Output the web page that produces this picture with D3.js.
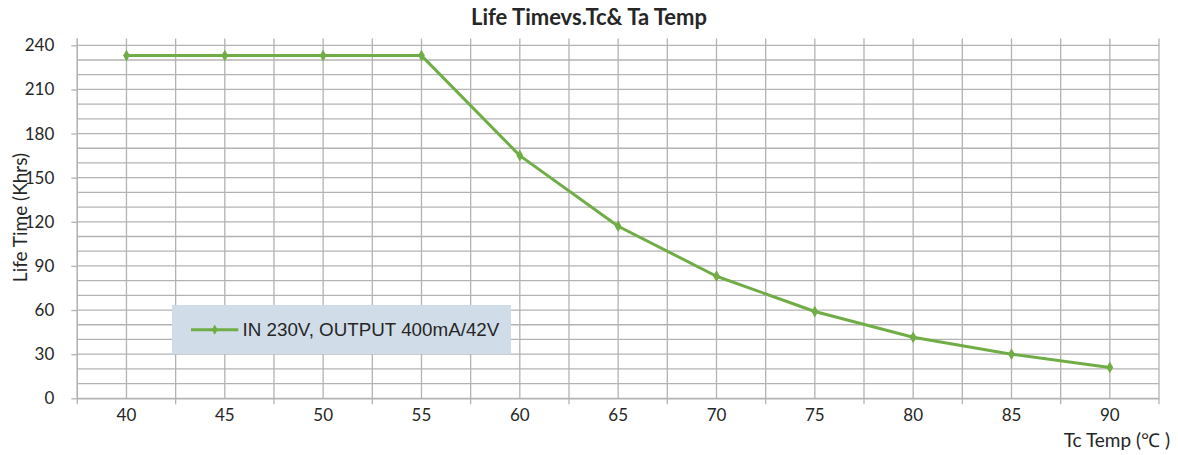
<!DOCTYPE html>
<html>
<head>
<meta charset="utf-8">
<script src="https://cdn.jsdelivr.net/npm/d3@7"></script>
<style>
  body { margin: 0; background: #fff; }
  text { font-family: Lato, "Open Sans", sans-serif; fill: #262626; }
</style>
</head>
<body>
<svg id="chart"></svg>
<script>
// data
const temps = ["40", "45", "50", "55", "60", "65", "70", "75", "80", "85", "90"];
const lifeKhrs = [233, 233, 233, 233, 165, 117, 83, 59, 41.5, 30, 21];
const yTicks = [0, 30, 60, 90, 120, 150, 180, 210, 240];
const seriesName = "IN 230V, OUTPUT 400mA/42V";

const width = 1178, height = 455;
const plot = { left: 77.3, right: 1159, top: 38.5, bottom: 398.3 };

const svg = d3.select("#chart").attr("width", width).attr("height", height);

const x = d3.scaleBand()
    .domain(temps)
    .range([plot.left, plot.right])
    .padding(0);

const y = d3.scaleLinear()
    .domain([0, 240])
    .range([plot.bottom, 45.3]);

const gridColor = "#b3b3b3";

// horizontal gridlines every 10
svg.append("g")
    .selectAll("line")
    .data(d3.range(0, 241, 10))
    .enter()
    .append("line")
    .attr("x1", plot.left)
    .attr("x2", plot.right)
    .attr("y1", d => y(d))
    .attr("y2", d => y(d))
    .attr("stroke", gridColor)
    .attr("stroke-width", 1.3);

// vertical gridlines at category centres and boundaries
const bounds = temps.map(t => x(t)).concat([plot.right]);
const centres = temps.map(t => x(t) + x.bandwidth() / 2);
svg.append("g")
    .selectAll("line")
    .data(bounds.concat(centres))
    .enter()
    .append("line")
    .attr("x1", d => d)
    .attr("x2", d => d)
    .attr("y1", plot.top)
    .attr("y2", plot.bottom)
    .attr("stroke", gridColor)
    .attr("stroke-width", 1.3);

// y axis
const yAxis = svg.append("g")
    .attr("transform", `translate(${plot.left}, 0)`)
    .call(d3.axisLeft(y).tickValues(yTicks).tickSize(6).tickPadding(17));
yAxis.select(".domain").attr("stroke", gridColor).attr("stroke-width", 1.3)
    .attr("d", `M0,${plot.top}V${plot.bottom}`);
yAxis.selectAll(".tick line").attr("stroke", gridColor).attr("stroke-width", 1.3);
yAxis.selectAll("text")
    .style("font-family", "Lato, sans-serif")
    .style("font-size", "17px")
    .attr("fill", "#262626");

// x axis, ticks at category boundaries
const xAxis = svg.append("g")
    .attr("transform", `translate(0, ${plot.bottom})`)
    .call(d3.axisBottom(x).tickSize(0).tickPadding(11));
xAxis.select(".domain").attr("stroke", gridColor).attr("stroke-width", 1.3);
xAxis.selectAll("text")
    .style("font-family", "Lato, sans-serif")
    .style("font-size", "17px")
    .attr("fill", "#262626");
xAxis.selectAll(".bound-tick")
    .data(bounds)
    .enter()
    .append("line")
    .attr("class", "bound-tick")
    .attr("x1", d => d)
    .attr("x2", d => d)
    .attr("y1", 0)
    .attr("y2", 6)
    .attr("stroke", gridColor)
    .attr("stroke-width", 1.3);

// series line
const green = "#70ad47";
const line = d3.line()
    .x((d, i) => x(temps[i]) + x.bandwidth() / 2)
    .y(d => y(d));

svg.append("path")
    .datum(lifeKhrs)
    .attr("d", line)
    .attr("fill", "none")
    .attr("stroke", green)
    .attr("stroke-width", 3)
    .attr("stroke-linejoin", "round");

svg.selectAll(".marker")
    .data(lifeKhrs)
    .enter()
    .append("path")
    .attr("class", "marker")
    .attr("d", d3.symbol().type(d3.symbolDiamond).size(40))
    .attr("transform", (d, i) => `translate(${x(temps[i]) + x.bandwidth() / 2}, ${y(d)})`)
    .attr("fill", green);

// legend
const legend = svg.append("g");
legend.append("rect")
    .attr("x", 172)
    .attr("y", 305)
    .attr("width", 339)
    .attr("height", 49.3)
    .attr("fill", "#d0dde9");
legend.append("line")
    .attr("x1", 191)
    .attr("x2", 238.3)
    .attr("y1", 329.7)
    .attr("y2", 329.7)
    .attr("stroke", green)
    .attr("stroke-width", 3);
legend.append("path")
    .attr("d", d3.symbol().type(d3.symbolDiamond).size(30))
    .attr("transform", "translate(214.7, 329.7)")
    .attr("fill", green);
legend.append("text")
    .attr("x", 242.5)
    .attr("y", 329.7)
    .attr("dy", "0.35em")
    .style("font-family", "'Liberation Sans', Arial, sans-serif")
    .style("font-size", "18.8px")
    .text(seriesName);

// titles
svg.append("text")
    .attr("x", 589)
    .attr("y", 25)
    .attr("text-anchor", "middle")
    .style("font-size", "22px")
    .style("font-weight", "bold")
    .text("Life Timevs.Tc& Ta Temp");

svg.append("text")
    .attr("transform", "translate(26.5, 217.5) rotate(-90)")
    .attr("text-anchor", "middle")
    .style("font-size", "19px")
    .text("Life Time (Khrs)");

svg.append("text")
    .attr("x", 1170)
    .attr("y", 447)
    .attr("text-anchor", "end")
    .style("font-size", "19px")
    .text("Tc Temp (℃ )");
</script>
</body>
</html>
